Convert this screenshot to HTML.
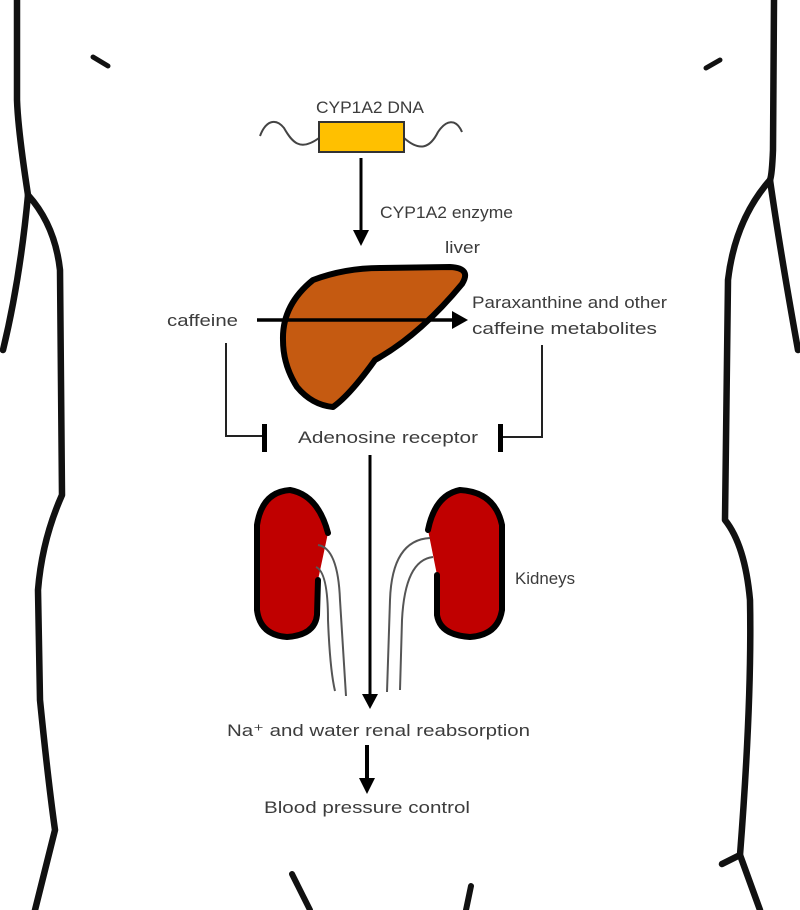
<!DOCTYPE html>
<html><head><meta charset="utf-8"><style>
html,body{margin:0;padding:0;background:#fff;}
svg{display:block;}
text{font-family:"Liberation Sans",sans-serif;fill:#3c3c3c;font-size:17px;}
</style></head><body>
<svg width="800" height="910" viewBox="0 0 800 910" xmlns="http://www.w3.org/2000/svg">
<g fill="none" stroke="#111" stroke-width="6.5" stroke-linecap="round" stroke-linejoin="round">
<path d="M17,0 L17,100 Q18,130 28,195 Q55,225 60,270 L62,495 Q42,540 38,590 L40,700 Q48,780 55,830 L35,910"/>
<path d="M28,195 Q20,280 3,350"/>
<path d="M774,0 L773,150 Q772,175 770,180 Q735,220 728,280 L725,520 Q745,545 750,600 Q752,700 740,855 L760,910"/>
<path d="M740,855 L722,864"/>
<path d="M770,180 Q780,250 798,350"/>
<path d="M93,57 L108,66" stroke-width="5"/>
<path d="M706,68 L720,60" stroke-width="5"/>
<path d="M292,874 L310,910" stroke-width="6"/>
<path d="M471,886 L466,910" stroke-width="6"/>
</g>
<!-- DNA -->
<text x="316" y="113" font-size="15" textLength="108" lengthAdjust="spacingAndGlyphs">CYP1A2 DNA</text>
<path d="M260,136 C266,120 276,118 284,128 C292,142 300,152 319,138" fill="none" stroke="#444" stroke-width="2"/>
<path d="M404,138 C420,152 430,148 438,132 C446,120 456,118 462,132" fill="none" stroke="#444" stroke-width="2"/>
<rect x="319" y="122" width="85" height="30" fill="#ffc000" stroke="#333" stroke-width="2"/>
<!-- enzyme arrow -->
<line x1="361" y1="158" x2="361" y2="234" stroke="#000" stroke-width="3"/>
<polygon points="353,230 369,230 361,246" fill="#000"/>
<text x="380" y="218" textLength="133" lengthAdjust="spacingAndGlyphs">CYP1A2 enzyme</text>
<text x="445" y="253" textLength="35" lengthAdjust="spacingAndGlyphs">liver</text>
<!-- liver -->
<path d="M313,280 Q345,268 380,268 L450,267 Q472,268 462,284 Q420,335 375,360 Q350,395 333,407 Q312,405 297,387 Q283,365 283,340 Q282,305 313,280 Z" fill="#c55a11" stroke="#000" stroke-width="6" stroke-linejoin="round"/>
<line x1="257" y1="320" x2="455" y2="320" stroke="#000" stroke-width="3.5"/>
<polygon points="452,311 468,320 452,329" fill="#000"/>
<text x="167" y="326" textLength="71" lengthAdjust="spacingAndGlyphs">caffeine</text>
<text x="472" y="308" textLength="195" lengthAdjust="spacingAndGlyphs">Paraxanthine and other</text>
<text x="472" y="334" textLength="185" lengthAdjust="spacingAndGlyphs">caffeine metabolites</text>
<!-- inhibitions -->
<polyline points="226,343 226,436 262,436" fill="none" stroke="#222" stroke-width="2"/>
<rect x="262" y="424" width="5" height="28" fill="#000"/>
<polyline points="542,345 542,437 503,437" fill="none" stroke="#222" stroke-width="2"/>
<rect x="498" y="424" width="5" height="28" fill="#000"/>
<text x="298" y="443" textLength="180" lengthAdjust="spacingAndGlyphs">Adenosine receptor</text>
<!-- kidneys -->
<path d="M328,533 Q318,495 290,490 Q262,492 257,525 L257,610 Q260,635 287,637 Q315,635 317,615 L318,580 Z" fill="#c00000"/>
<path d="M328,533 Q318,495 290,490 Q262,492 257,525 L257,610 Q260,635 287,637 Q315,635 317,615 L318,580" fill="none" stroke="#000" stroke-width="6" stroke-linecap="round"/>
<path d="M428,530 Q435,495 460,490 Q495,492 502,525 L502,610 Q498,635 470,637 Q440,635 437,615 L437,575 Z" fill="#c00000"/>
<path d="M428,530 Q435,495 460,490 Q495,492 502,525 L502,610 Q498,635 470,637 Q440,635 437,615 L437,575" fill="none" stroke="#000" stroke-width="6" stroke-linecap="round"/>
<g fill="none" stroke="#555" stroke-width="2">
<path d="M318,545 Q338,548 340,600 L346,696"/>
<path d="M316,567 Q328,572 328,620 Q330,670 335,691"/>
<path d="M430,538 Q392,540 390,600 L387,692"/>
<path d="M433,557 Q405,560 402,620 L400,690"/>
</g>
<text x="515" y="584" textLength="60" lengthAdjust="spacingAndGlyphs">Kidneys</text>
<!-- main arrows -->
<line x1="370" y1="455" x2="370" y2="698" stroke="#000" stroke-width="3"/>
<polygon points="362,694 378,694 370,709" fill="#000"/>
<text x="227" y="736" textLength="303" lengthAdjust="spacingAndGlyphs">Na⁺ and water renal reabsorption</text>
<line x1="367" y1="745" x2="367" y2="782" stroke="#000" stroke-width="4"/>
<polygon points="359,778 375,778 367,794" fill="#000"/>
<text x="264" y="813" textLength="206" lengthAdjust="spacingAndGlyphs">Blood pressure control</text>
</svg>
</body></html>
